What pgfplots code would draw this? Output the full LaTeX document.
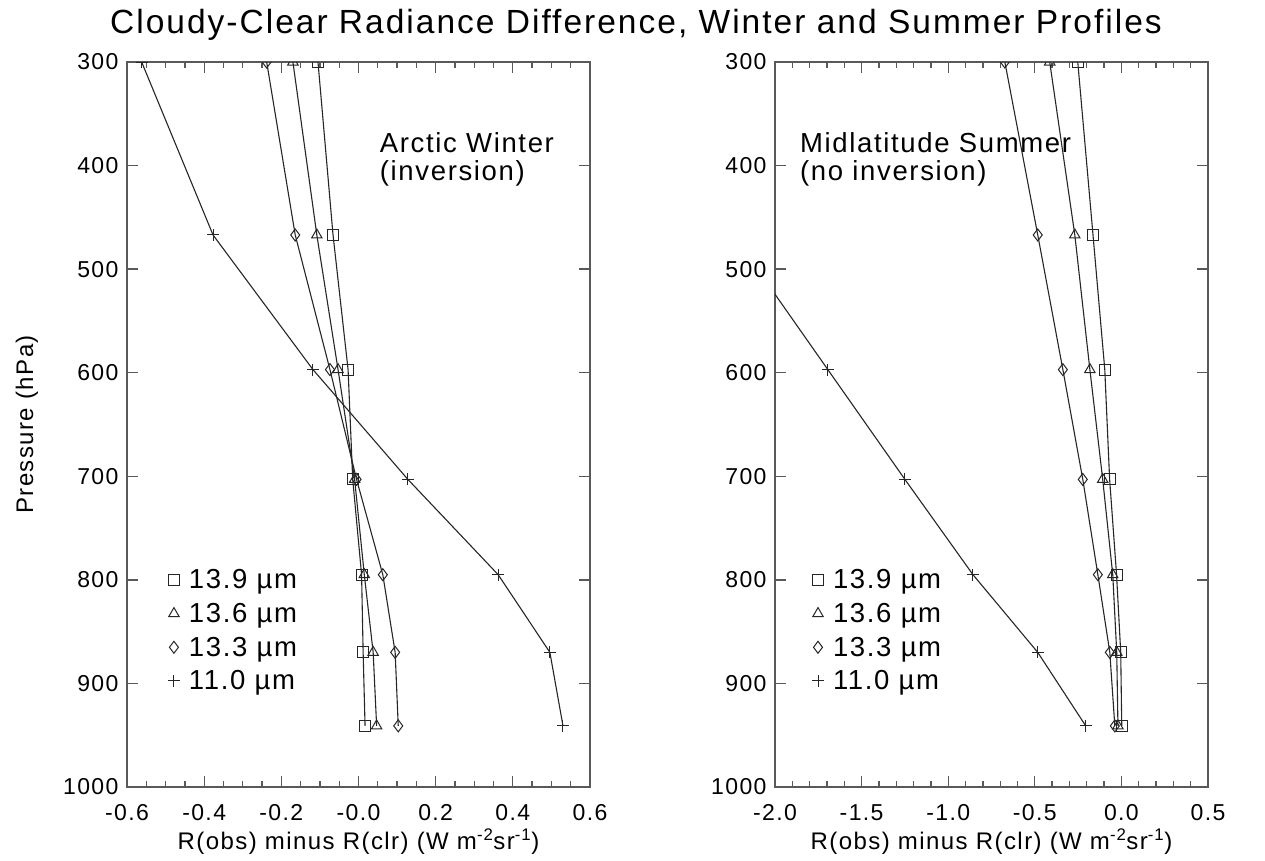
\documentclass[border=0pt]{standalone}
\usepackage{fontspec}
\setmainfont[LetterSpace=6]{Liberation Sans}
\usepackage{pgfplots}
\pgfplotsset{compat=1.18}
\pgfplotsset{
  idl/.style={
    scale only axis, height=725pt, y dir=reverse, ymin=300, ymax=1000,
    ytick={300,400,500,600,700,800,900,1000},
    yticklabels={300,400,500,600,700,800,900,1000},
    tick align=inside, major tick length=11pt, minor tick length=6pt,
    axis line style={black!65, line width=1.6pt},
    every tick/.style={black!65, line width=1.3pt},
    ticklabel style={font=\fontsize{23}{23}\selectfont},
    xticklabel style={yshift=-14pt},
    yticklabel style={xshift=-5pt},
    clip marker paths=true,
    every axis plot/.append style={black!85, line width=1.1pt, mark options={solid, line width=1pt}},
    xlabel style={font=\fontsize{24}{24}\selectfont, yshift=-1pt},
    legend style={draw=none, fill=none, font=\fontsize{27.5}{27.5}\selectfont, row sep=9pt,
      legend cell align=left, inner sep=0pt,
      /tikz/every odd column/.append style={column sep=7pt}},
    legend image code/.code={\draw[#1, only marks] plot coordinates {(0pt,0pt)};},
  }
}
\begin{document}
\begin{tikzpicture}
\path[use as bounding box] (0,0) rectangle (1265pt,861pt);
\node[font=\fontsize{33.5}{33.5}\selectfont] at (636pt,836pt) {Cloudy-Clear Radiance Difference, Winter and Summer Profiles};
% left panel
\begin{axis}[idl, at={(127pt,74pt)}, anchor=south west, width=463pt,
  xmin=-0.6, xmax=0.6, xtick={-0.6,-0.4,-0.2,0,0.2,0.4,0.6},
  xticklabels={-0.6,-0.4,-0.2,-0.0,0.2,0.4,0.6}, minor x tick num=3,
  xlabel={R(obs) minus R(clr) (W m\textsuperscript{-2}sr\textsuperscript{-1})},
  ylabel={Pressure (hPa)},
  every axis y label/.style={at={(rel axis cs:-0.216,0.5)}, anchor=center, rotate=90, font=\fontsize{24}{24}\selectfont},
  legend style={at={(rel axis cs:0.088,0.303)}, anchor=north west},
]
\addplot[mark=square, mark size=5.5pt] coordinates {(-0.105,300) (-0.066,467) (-0.027,597) (-0.015,703) (0.008,795) (0.012,870) (0.017,941)};
\addplot[mark=triangle, mark size=6pt] coordinates {(-0.170,300) (-0.108,467) (-0.053,597) (-0.010,703) (0.015,795) (0.038,870) (0.047,941)};
\addplot[mark=diamond, mark size=6pt] coordinates {(-0.238,300) (-0.164,467) (-0.074,597) (-0.005,703) (0.063,795) (0.095,870) (0.103,941)};
\addplot[mark=+, mark size=6pt] coordinates {(-0.562,300) (-0.377,467) (-0.118,597) (0.128,703) (0.362,795) (0.496,870) (0.530,941)};
\legend{13.9 µm,13.6 µm,13.3 µm,11.0 µm}
\node[anchor=north west, align=left, font=\fontsize{27.5}{27.5}\selectfont, inner sep=0pt] at (axis cs:0.055,368) {Arctic Winter\\(inversion)};
\end{axis}
% right panel
\begin{axis}[idl, at={(775pt,74pt)}, anchor=south west, width=433pt,
  xmin=-2.0, xmax=0.5, xtick={-2,-1.5,-1,-0.5,0,0.5},
  xticklabels={-2.0,-1.5,-1.0,-0.5,0.0,0.5}, minor x tick num=4,
  xlabel={R(obs) minus R(clr) (W m\textsuperscript{-2}sr\textsuperscript{-1})},
  legend style={at={(rel axis cs:0.085,0.303)}, anchor=north west},
]
\addplot[mark=square, mark size=5.5pt] coordinates {(-0.252,300) (-0.164,467) (-0.096,597) (-0.068,703) (-0.028,795) (-0.004,870) (0.002,941)};
\addplot[mark=triangle, mark size=6pt] coordinates {(-0.414,300) (-0.269,467) (-0.182,597) (-0.108,703) (-0.050,795) (-0.027,870) (-0.020,941)};
\addplot[mark=diamond, mark size=6pt] coordinates {(-0.673,300) (-0.483,467) (-0.338,597) (-0.223,703) (-0.136,795) (-0.067,870) (-0.038,941)};
\addplot[mark=+, mark size=6pt] coordinates {(-2.240,467) (-1.695,597) (-1.250,703) (-0.857,795) (-0.483,870) (-0.206,941)};
\legend{13.9 µm,13.6 µm,13.3 µm,11.0 µm}
\node[anchor=north west, align=left, font=\fontsize{27.5}{27.5}\selectfont, inner sep=0pt] at (axis cs:-1.856,368) {Midlatitude Summer\\(no inversion)};
\end{axis}
\end{tikzpicture}
\end{document}
